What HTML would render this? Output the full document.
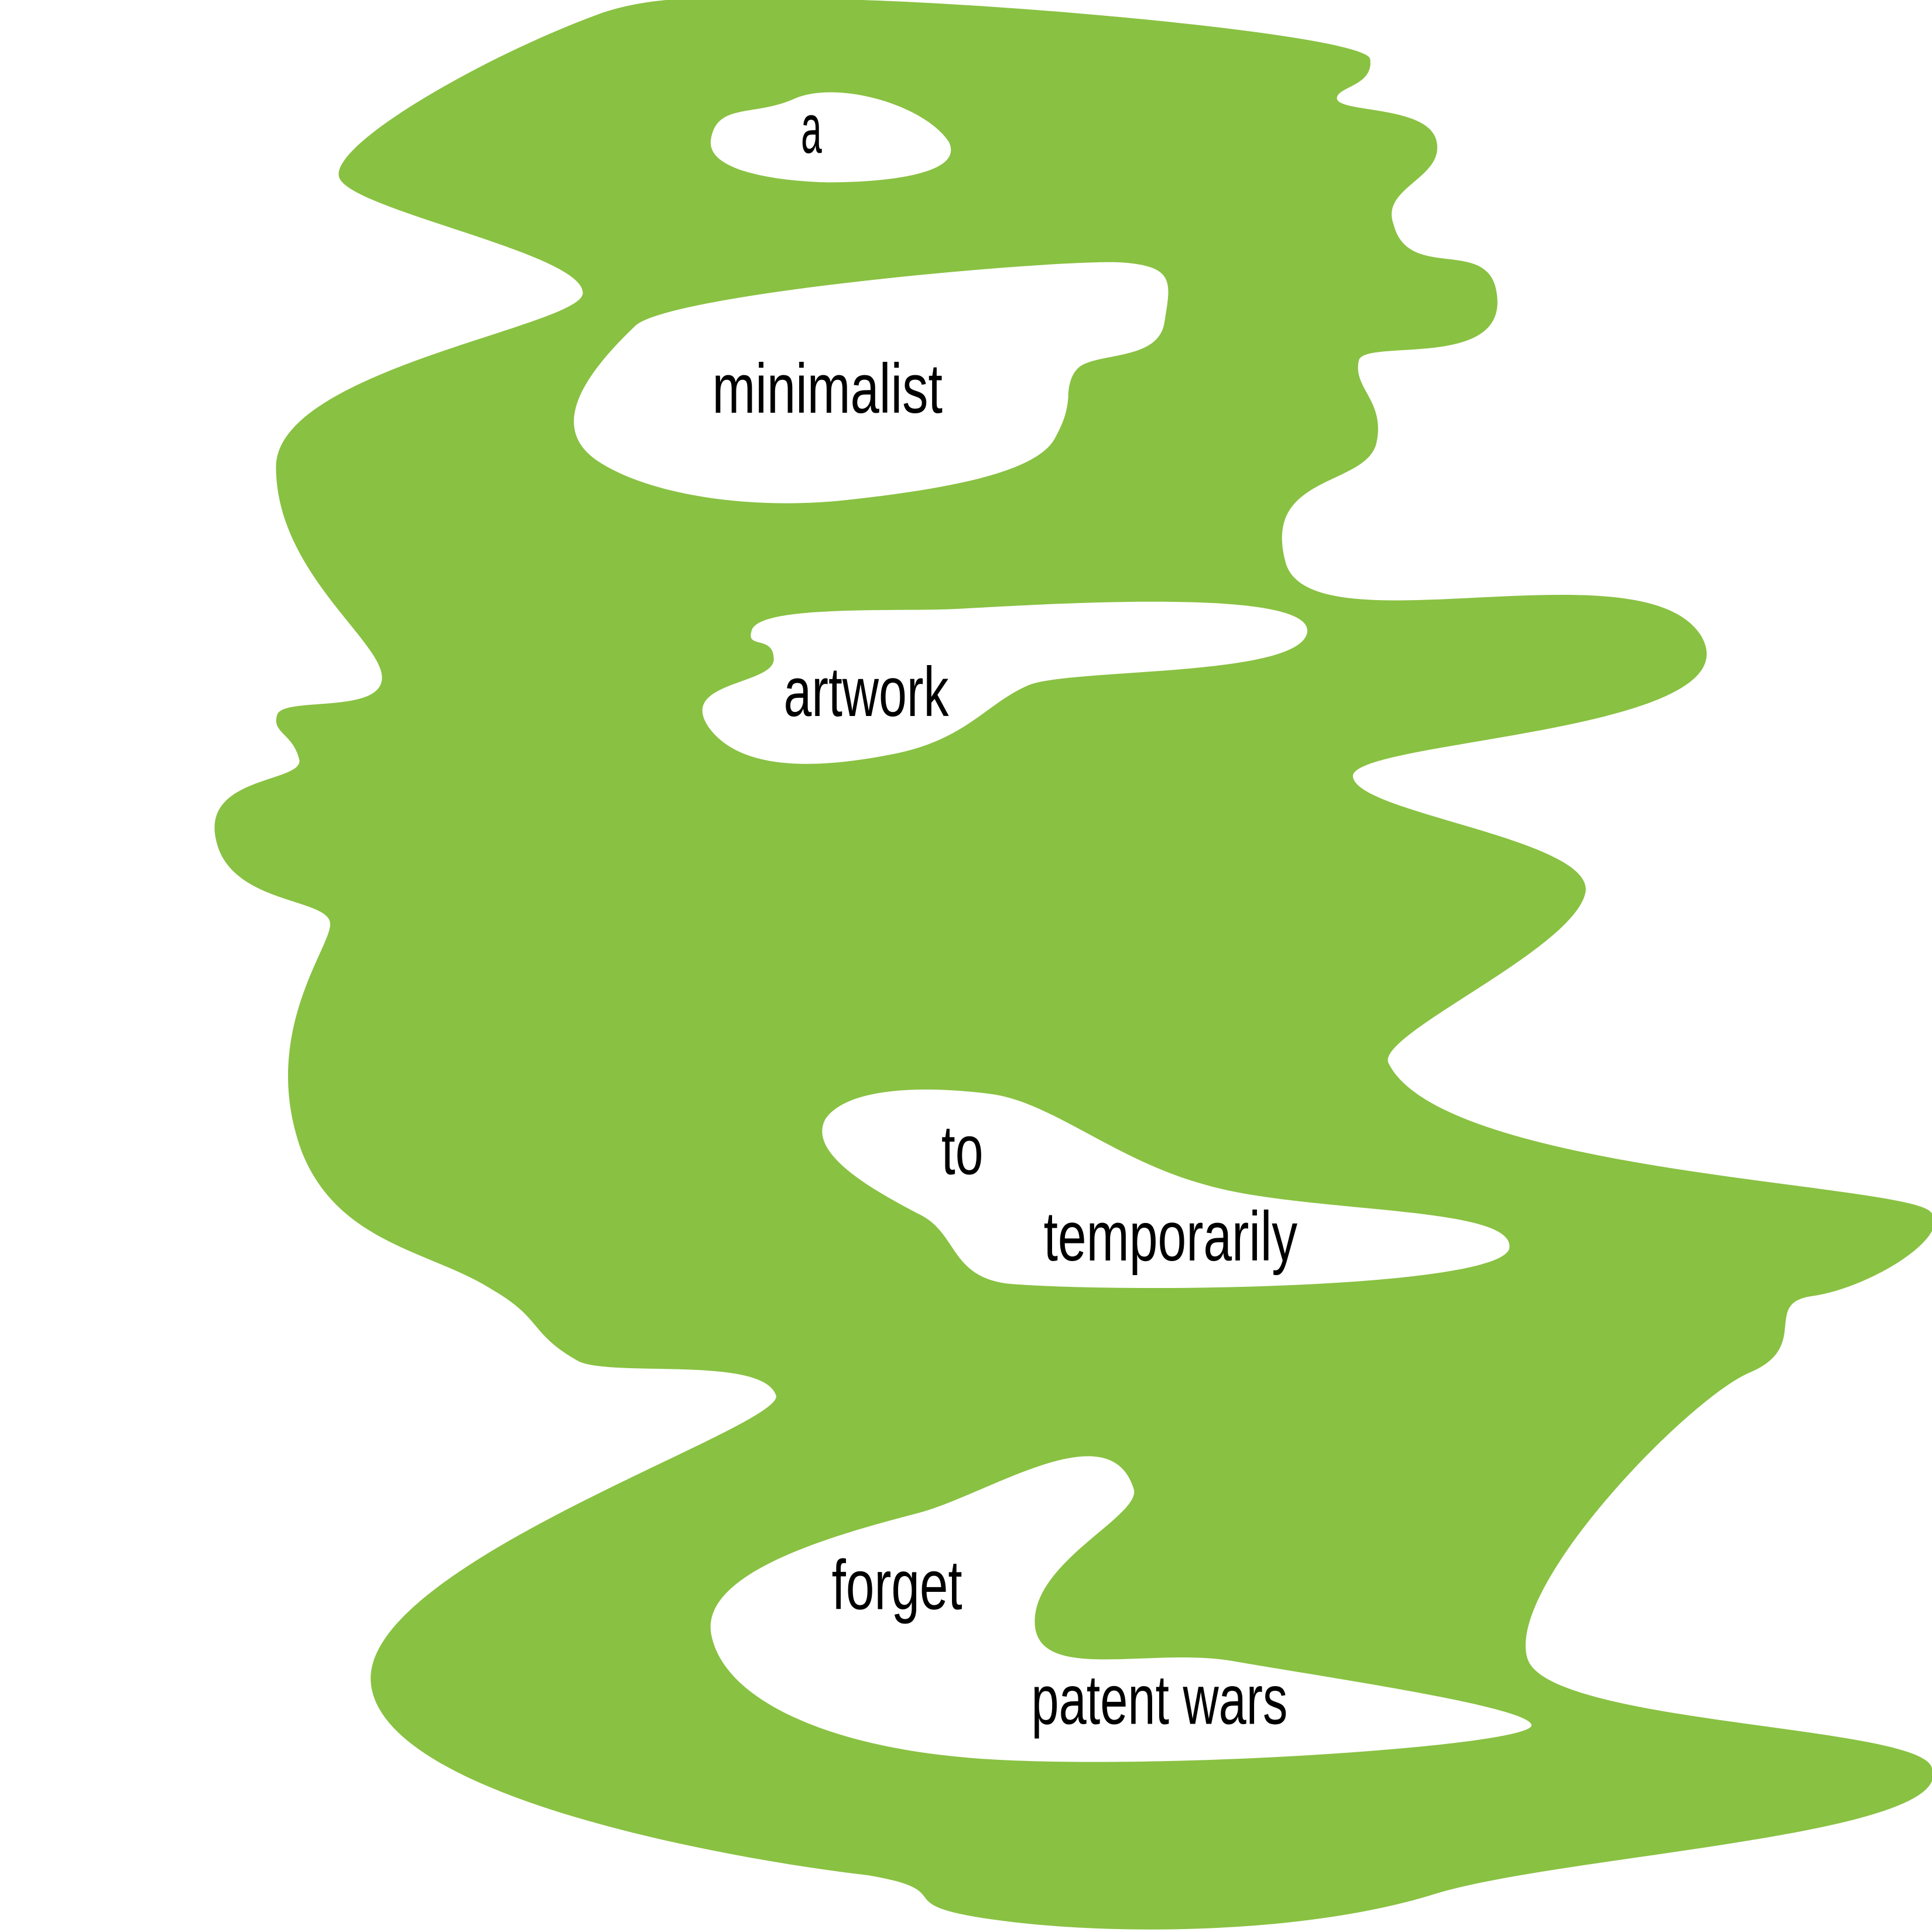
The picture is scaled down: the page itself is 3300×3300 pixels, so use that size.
<!DOCTYPE html>
<html><head><meta charset="utf-8"><style>
html,body{margin:0;padding:0;background:#fff;}
svg{display:block;}
text{font-family:"Liberation Sans",sans-serif;font-size:57px;fill:#000;}
</style></head><body>
<svg width="3300" height="3300" viewBox="0 0 1568 1568" xmlns="http://www.w3.org/2000/svg">
<rect x="0" y="0" width="1568" height="1568" fill="#fff"/>
<path fill="#89c142" d="M490,10 C530,-3 580,-5 700,0 C850,5 1110,30 1112,48 C1115,70 1085,70 1085,80 C1087,92 1160,85 1166,115 C1172,145 1120,152 1131,182 C1143,230 1210,190 1215,240 C1222,300 1110,275 1103,292 C1097,315 1125,325 1117,360 C1108,395 1025,385 1043,455 C1060,530 1330,440 1380,515 C1430,595 1098,600 1098,630 C1100,660 1290,680 1287,723 C1280,770 1115,840 1127,863 C1170,950 1530,960 1565,982 C1590,1000 1520,1045 1470,1052 C1430,1058 1470,1093 1420,1114 C1370,1135 1220,1290 1240,1347 C1260,1400 1560,1400 1568,1435 C1590,1490 1270,1505 1165,1537 C1060,1570 900,1572 800,1557 C720,1545 780,1535 705,1522 C600,1510 310,1460 301,1366 C292,1270 632,1160 630,1133 C620,1100 500,1118 470,1105 C430,1083 440,1070 400,1047 C350,1015 275,1010 245,935 C210,840 268,770 268,750 C268,728 185,735 175,680 C165,630 245,635 243,617 C238,595 220,595 225,580 C230,565 310,580 310,550 C310,520 225,465 224,380 C222,300 472,265 473,238 C474,205 280,170 275,143 C270,115 400,42 490,10 Z"/>
<g fill="#fff">
<path d="M645,80 C680,65 750,85 770,115 C785,145 700,148 675,148 C650,148 572,143 577,113 C582,83 612,95 645,80 Z"/>
<path d="M515,265 C540,238 860,210 910,213 C955,216 950,230 945,262 C940,292 895,286 877,297 C870,302 867,312 867,322 C866,336 862,345 856,356 C840,385 760,398 685,406 C610,414 530,402 488,376 C445,350 470,308 515,265 Z"/>
<path d="M610,512 C615,490 735,497 780,494 C870,489 1065,478 1061,513 C1055,550 870,542 835,556 C800,571 785,600 725,612 C660,625 600,625 575,590 C550,553 628,556 628,535 C628,515 605,527 610,512 Z"/>
<path d="M670,908 C690,880 760,882 805,888 C855,895 905,942 980,962 C1060,985 1230,978 1225,1013 C1218,1045 925,1050 820,1042 C770,1037 778,1000 745,985 C705,964 655,935 670,908 Z"/>
<path d="M745,1228 C800,1214 900,1145 920,1208 C928,1230 835,1268 840,1320 C845,1365 935,1337 1000,1348 C1080,1362 1240,1385 1243,1400 C1245,1418 900,1440 770,1425 C660,1413 585,1375 577,1325 C570,1275 680,1245 745,1228 Z"/>
</g>
<text x="650" y="124" textLength="17" lengthAdjust="spacingAndGlyphs">a</text>
<text x="578" y="335" textLength="187" lengthAdjust="spacingAndGlyphs">minimalist</text>
<text x="636" y="581" textLength="134" lengthAdjust="spacingAndGlyphs">artwork</text>
<text x="764" y="953" textLength="34" lengthAdjust="spacingAndGlyphs">to</text>
<text x="847" y="1023" textLength="206" lengthAdjust="spacingAndGlyphs">temporarily</text>
<text x="675" y="1306" textLength="106" lengthAdjust="spacingAndGlyphs">forget</text>
<text x="837" y="1399" textLength="208" lengthAdjust="spacingAndGlyphs">patent wars</text>
</svg>
</body></html>
